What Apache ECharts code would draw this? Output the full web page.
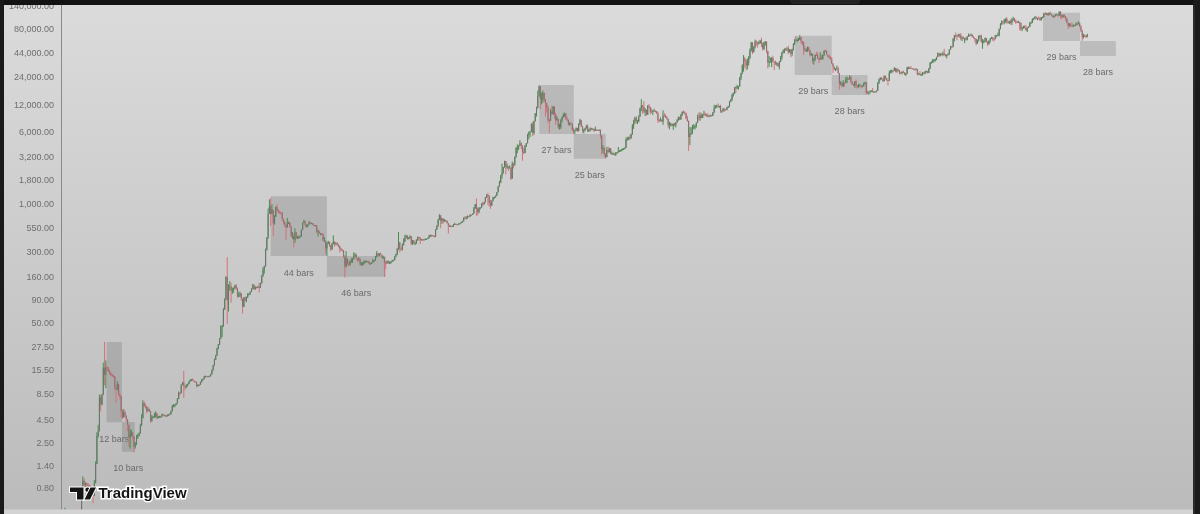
<!DOCTYPE html>
<html><head><meta charset="utf-8">
<script src="https://cdn.jsdelivr.net/npm/echarts@6/dist/echarts.min.js"></script>
<style>html,body{margin:0;padding:0;background:#151515;overflow:hidden}#c{width:1200px;height:514px}</style>
</head><body><div id="c"></div><script>
// ---- Y tick labels (price, log scale) ----
const tickValues = [140000, 80000, 44000, 24000, 12000, 6000, 3200, 1800, 1000, 550, 300, 160, 90, 50, 27.5, 15.5, 8.5, 4.5, 2.5, 1.4, 0.8];
const tickText = ['140,000.00','80,000.00','44,000.00','24,000.00','12,000.00','6,000.00','3,200.00','1,800.00','1,000.00','550.00','300.00','160.00','90.00','50.00','27.50','15.50','8.50','4.50','2.50','1.40','0.80'];

// ---- Weekly candles: [close, high, low]; open = previous close ----
const firstOpen = 0.1;
const yearStarts = ['2010-10-18','2011-01-03','2012-01-02','2013-01-07','2014-01-06','2015-01-05','2016-01-04','2017-01-02','2018-01-01','2019-01-07','2020-01-06','2021-01-04','2022-01-03','2023-01-02','2024-01-01','2025-01-06','2026-01-05'];
const w2010 = [[0.105,0.11,0.095],[0.19,0.20,0.10],[0.36,0.50,0.19],[0.27,0.39,0.22],[0.28,0.30,0.25],[0.28,0.29,0.26],[0.21,0.27,0.19],[0.20,0.24,0.19],[0.24,0.26,0.20],[0.25,0.27,0.23],[0.30,0.30,0.25]];
const w2011 = [[0.32,0.35,0.29],[0.40,0.41,0.31],[0.41,0.45,0.38],[0.44,0.45,0.40],[0.72,0.75,0.44],
[0.99,1.10,0.72],[0.89,1.05,0.80],[0.92,0.95,0.82],[0.90,0.94,0.85],
[0.87,0.93,0.82],[0.85,0.90,0.80],[0.84,0.87,0.76],[0.78,0.85,0.70],
[0.68,0.79,0.56],[0.93,1.0,0.67],[1.50,1.6,0.92],[3.0,3.3,1.5],
[3.4,4.0,2.9],[7.9,8.5,3.4],[6.7,8.5,5.6],[8.4,8.6,6.5],[16.7,19,8.4],
[14.0,31.9,10.7],[16.9,20,10],[16.4,17.5,15.2],[15.4,17.0,14.8],
[14.5,16.0,13.9],[13.8,14.9,13.5],[13.7,14.4,13.3],[13.5,14.0,12.9],
[10.0,13.5,9.5],[9.7,10.8,6.9],[11.0,11.9,9.5],[8.6,11.2,8.2],[8.2,8.8,7.5],
[5.6,8.1,4.8],[4.8,5.9,4.6],[5.5,5.9,4.9],[5.0,5.7,4.8],
[4.6,5.1,4.3],[4.0,4.6,3.4],[2.9,4.0,2.3],[3.2,3.6,2.2],[3.3,3.5,3.0],
[3.0,3.2,2.8],[2.3,3.0,2.0],[2.5,2.6,2.2],[2.9,3.1,2.4],
[3.0,3.2,2.8],[3.2,3.3,3.0],[3.9,4.1,3.2],[4.7,5.2,3.9]];
const w2012 = [[6.9,7.4,4.9],[6.4,7.2,6.2],[6.3,6.8,6.0],[5.6,6.4,5.3],[5.9,6.2,5.6],
[5.6,6.0,5.5],[4.4,5.7,4.2],[4.9,5.1,4.3],[4.9,5.0,4.7],
[4.9,5.4,4.8],[5.3,5.6,4.8],[4.7,5.4,4.6],[4.9,5.0,4.7],
[4.9,5.0,4.8],[4.9,5.0,4.8],[5.2,5.3,4.9],[5.1,5.2,5.0],[5.0,5.2,4.9],
[4.95,5.1,4.9],[5.1,5.2,4.9],[5.1,5.2,5.0],[5.2,5.3,5.1],
[5.6,5.7,5.2],[6.4,6.6,5.6],[6.4,6.7,6.2],[6.6,6.7,6.2],
[6.8,6.9,6.5],[7.6,7.8,6.8],[8.9,9.2,7.6],[8.8,9.0,8.4],[10.9,11.0,8.9],
[11.5,11.6,10.8],[10.5,15.4,7.8],[10.2,10.9,9.5],[10.6,11.0,10.0],
[11.0,11.2,10.4],[11.7,11.9,11.0],[12.3,12.5,11.7],[12.4,12.6,12.0],
[12.1,12.8,12.0],[11.8,12.2,11.6],[11.7,11.9,11.5],[10.5,11.8,10.2],[10.8,11.0,10.4],
[10.9,11.0,10.6],[11.6,11.8,10.8],[12.4,12.6,11.5],[12.6,12.7,12.1],
[13.4,13.6,12.5],[13.5,13.7,13.2],[13.4,13.6,13.2],[13.5,13.6,13.3],[13.5,13.7,13.3]];
const w2013 = [[14.2,14.3,13.4],[15.7,16.0,14.1],[17.6,18.0,15.6],[20.4,21.0,17.6],
[22.6,23.0,20.3],[27.0,27.5,22.5],[29.9,30.2,26.5],[34.5,34.9,29.5],
[46.9,48.5,34.5],[47.0,48.4,36.0],[71.5,74,46.5],[93,95,71],
[162,165,92],[90,266,50],[127,135,68],[128,146,115],[115,140,85],
[117,124,106],[122,125,109],[131,133,120],[122,136,117],
[100,124,96],[101,112,98],[107,112,98],[94,108,89],
[77,94,65],[97,98,76],[89,99,88],[97,99,86],[105,108,96],
[106,108,102],[112,113,104],[120,122,111],[133,136,119],
[119,134,117],[126,128,118],[125,127,121],[127,130,124],[123,140,110],
[138,140,123],[165,170,137],[195,207,164],[212,215,176],
[320,330,210],[435,440,315],[790,900,420],[955,1127,790],
[790,1163,580],[870,1000,780],[620,870,450],[730,760,600],[930,950,730]];
const w2014 = [[870,1000,830],[830,880,800],[820,850,780],[810,830,770],
[690,820,650],[640,700,600],[600,660,560],[560,600,410],
[630,710,560],[630,650,610],[565,640,555],[450,590,440],[450,500,420],
[410,480,340],[495,550,380],[430,500,420],[430,450,420],
[440,460,420],[445,455,435],[525,530,445],[630,630,525],
[655,680,620],[590,660,560],[595,600,560],[600,610,560],[635,660,600],
[620,640,610],[620,630,610],[595,625,590],[590,600,570],
[590,595,575],[500,590,490],[505,530,445],[480,520,475],
[480,485,460],[475,490,460],[400,480,400],[400,440,390],[330,400,290],
[375,385,275],[390,400,370],[355,390,345],[325,360,310],
[375,380,320],[390,460,365],[375,395,345],[380,385,360],
[365,385,355],[350,370,340],[330,355,300],[320,335,310],[315,325,305]];
const w2015 = [[270,305,260],[210,280,160],[255,310,205],[225,260,215],
[220,245,210],[235,245,215],[245,260,230],[255,260,230],
[275,300,250],[280,295,265],[260,290,245],[250,255,235],[255,265,240],
[220,255,215],[222,235,215],[226,235,215],[240,245,220],
[240,245,230],[237,245,232],[240,242,233],[225,242,222],
[225,230,220],[232,235,225],[245,255,232],[245,248,238],[270,275,242],
[292,310,262],[275,295,270],[290,295,270],[282,298,278],
[262,283,258],[265,275,255],[232,262,162],[228,240,198],[240,245,225],
[230,245,225],[231,240,225],[235,240,225],[245,248,235],
[247,250,240],[270,272,245],[285,290,265],[325,335,280],
[385,500,320],[330,390,300],[325,340,310],[360,375,315],[390,425,355],
[435,465,390],[455,465,425],[420,460,410],[430,440,415]];
const w2016 = [[450,460,420],[375,450,360],[405,410,360],[375,400,370],
[375,390,360],[410,415,370],[440,445,400],[430,445,400],[410,440,370],
[415,420,405],[410,420,405],[415,420,405],[420,425,410],
[420,425,415],[430,435,420],[460,465,425],[455,470,440],
[460,465,445],[455,462,450],[443,457,435],[530,535,440],[585,590,525],
[680,690,570],[760,780,670],[660,760,550],[700,710,610],
[650,690,620],[665,690,650],[660,680,640],[625,660,615],
[585,625,480],[570,600,565],[580,590,570],[575,585,565],[605,610,565],
[610,630,600],[605,615,600],[600,605,590],[615,620,600],
[620,625,605],[640,645,630],[655,660,630],[715,720,650],[705,745,690],
[705,740,690],[740,755,700],[735,745,725],[770,775,725],
[765,775,750],[790,795,765],[895,935,790],[1000,1010,890]];
const w2017 = [[900,1150,750],[820,920,760],[920,925,800],[920,925,880],[1015,1030,915],
[1000,1070,950],[1050,1060,990],[1180,1200,1050],[1260,1290,1170],
[1240,1330,980],[1030,1250,940],[970,1120,890],[1090,1100,960],
[1190,1200,1080],[1195,1210,1150],[1240,1250,1180],[1350,1355,1240],
[1560,1580,1350],[1720,1800,1560],[2050,2080,1700],[2200,2760,1900],[2520,2550,2150],
[2950,2980,2500],[2550,2850,2100],[2580,2770,2420],[2500,2600,2300],
[2500,2650,2480],[1900,2530,1840],[2750,2920,1960],[2720,2830,2450],[3260,3300,2620],
[4050,4200,3200],[4080,4480,3600],[4350,4400,3900],[4600,4980,4300],
[4300,4720,3980],[3700,4400,2970],[3600,4100,3500],[4380,4400,3750],
[4600,4650,4200],[5700,5850,4600],[6000,6200,5100],[6150,6250,5400],[7400,7600,6100],
[5950,7900,5500],[8000,8100,5700],[9700,9800,7950],[11300,11500,9000],
[15000,17200,11000],[19100,19666,14800],[13900,19100,10800],[14000,16500,12200]];
const w2018 = [[16200,17250,12800],[13600,16500,12900],[12600,14000,9000],[11400,12000,10000],[8200,11800,7700],
[8100,8500,6000],[10300,10900,8100],[9600,11800,9300],[11500,11700,9400],
[9500,11700,8500],[8200,9900,7300],[8500,9100,8100],[6900,8500,6600],
[6900,7500,6500],[8300,8400,6600],[8900,9000,7800],[9400,9750,8700],[9700,9950,8900],
[8400,9700,8300],[8250,8880,7900],[7350,8400,7250],[7700,7750,7100],
[7500,7800,7400],[6450,7300,6300],[6150,6800,5800],[6350,6500,5800],
[6750,6850,6300],[6250,6800,6100],[7400,7600,6200],[8200,8500,7300],[7000,8200,6900],
[6300,7150,6000],[6400,6600,5880],[6700,6800,6250],[7050,7300,6650],
[6200,7400,6100],[6500,6600,6200],[6700,6850,6200],[6600,6800,6400],
[6600,6700,6500],[6300,6700,6100],[6450,7000,6300],[6440,6520,6380],[6400,6500,6300],
[6450,6500,6300],[5600,6480,5200],[3950,5600,3480],[4100,4400,3600],
[3500,4200,3300],[3250,3600,3120],[3900,4200,3250],[3700,4250,3550],[4050,4100,3650]];
const w2019 = [[3550,4100,3500],[3550,3750,3500],[3550,3650,3450],[3450,3550,3400],
[3650,3700,3350],[3650,3700,3550],[3800,4200,3650],[3850,3900,3700],
[3900,3950,3700],[4000,4050,3800],[4000,4100,3950],[4100,4150,3950],
[5050,5300,4100],[5150,5450,4900],[5350,5400,5000],[5200,5650,5000],[5800,5850,5200],
[7200,7450,5700],[8050,8300,6600],[8750,8950,7500],[8000,9100,7500],
[8000,8300,7450],[8980,9300,7800],[11000,11250,8950],[11850,13900,10300],
[11500,12000,9650],[10200,13200,9800],[10700,11100,9100],[9500,10700,9200],[11800,11950,9400],
[11400,12300,11000],[10200,11500,9500],[10150,11000,9800],[10400,10600,9350],
[10400,10950,10250],[10300,10450,9950],[9700,10350,9650],[8200,10100,7700],[8150,8450,7800],
[8300,8800,8000],[7950,8400,7850],[9250,10500,7300],[9200,9850,8950],
[8800,9500,8700],[8500,9100,8300],[7300,8500,6800],[7400,7900,6550],
[7500,7700,7050],[7100,7500,7050],[7500,7550,6450],[7300,7700,7050],[7750,7800,6850]];
const w2020 = [[8200,8450,7700],[8900,9000,8100],[8350,8950,8250],[9400,9600,8300],
[10150,10200,9150],[9900,10500,9700],[9700,10250,9450],[8550,9950,8450],
[8050,9200,7900],[5400,8150,3800],[5850,6900,4400],[5900,6900,5700],[6800,7300,5860],
[6900,7450,6550],[7100,7300,6500],[7650,7800,6800],[8850,9450,7650],
[8700,10000,8100],[9350,9950,8100],[8700,9850,8600],[9450,9600,8650],
[9650,10400,9200],[9380,9950,9050],[9300,9600,8950],[9000,9800,8850],[9050,9300,8900],
[9300,9450,9050],[9150,9300,9000],[9950,10050,9150],[11050,12100,9900],
[11700,11900,11000],[11900,12100,11150],[11650,12500,11350],[11700,11800,11100],[10250,12100,9900],
[10300,10500,9900],[10950,11200,10200],[10750,10950,10150],[10650,10950,10500],
[11350,11500,10550],[11400,11750,11200],[13050,13250,11400],[13750,14000,12900],
[15450,15950,13300],[16050,16450,14850],[18700,18800,15800],[18200,19450,16300],[19150,19900,18000],
[19150,19400,17600],[23800,24300,19000],[26450,26900,22400],[32200,33300,26000]];
const w2021 = [[38200,41950,27700],[36100,40100,30400],[32300,37850,28800],[34300,38500,29300],
[39200,40950,32300],[47100,49700,37900],[57500,58300,45700],[45150,57500,43000],
[51000,52650,44950],[59000,61800,49300],[57400,60650,53200],[55800,58500,50400],[57100,60100,54800],
[60000,61300,55500],[56200,64900,51300],[49100,57200,47000],[57800,58500,47500],
[58250,59550,52900],[46450,59600,43900],[34700,46650,30000],[35650,40900,31200],[35800,39450,34900],
[39100,40000,31000],[35500,41300,34800],[34700,35700,28800],[34000,36600,32700],
[34250,35100,32100],[31800,34600,31000],[35400,35900,29300],[39850,40900,35200],
[44600,45300,37400],[47100,48150,43700],[49300,49400,43950],[48850,50500,46300],[49900,51000,46550],
[45150,52950,42850],[48300,48850,44750],[43200,48350,39600],[48200,49150,40750],
[55000,56550,46900],[61550,62950,53900],[61300,67000,59500],[61300,63700,57800],
[61500,64250,59800],[65500,69000,62300],[59700,66350,55600],[57300,59500,53600],[49400,59200,42000],
[46700,51950,45700],[46700,49450,45650],[50800,51950,45550],[47300,52100,45750]];
const w2022 = [[41850,47550,40650],[43100,44450,41250],[36300,43500,34000],[38500,38950,32900],[42400,42600,36250],
[42200,45850,41650],[38350,44700,38000],[37700,39800,34350],[38450,45400,37200],
[37800,42450,37550],[42250,42350,37600],[46850,47000,40900],[46400,48200,45100],
[42150,47200,42000],[40400,41550,39250],[39450,42950,38550],[37650,40800,37550],
[34050,39950,33700],[31300,34300,26700],[29450,31400,28650],[29450,30250,28000],[29900,32200,29250],
[26550,31650,26550],[20550,26850,17600],[21000,21850,19650],[19300,21500,18650],
[20850,22400,18950],[20800,21250,18950],[22600,24250,20750],[23300,24650,20800],
[23150,23650,22450],[24300,25200,22700],[21550,25000,20800],[20050,21850,19850],[19800,20550,19550],
[21800,21850,18550],[19450,22800,18250],[18950,19950,18150],[19300,20350,18500],
[19450,20450,19300],[19050,19950,18200],[19200,19700,18900],[20600,21050,19250],[21300,21450,20050],
[16300,21450,15600],[16250,17200,16000],[16450,16950,15500],[16900,17400,16050],
[17100,17400,16900],[16750,18400,16450],[16850,16950,16300],[16600,16950,16300]];
const w2023 = [[17150,17300,16500],[20850,21250,17150],[22700,23350,20400],[23750,23950,22300],[22950,24250,22700],
[21850,23400,21450],[24650,25250,21500],[23550,25250,22750],[22450,23900,21950],
[22150,22550,19550],[26900,28400,21950],[27450,28900,26600],[28450,29200,26550],
[28350,28800,27250],[30300,31000,28150],[27800,30400,27150],[29250,30050,26950],
[28700,29850,27700],[26900,28850,25850],[26750,27650,26100],[27700,27800,25900],[27100,28400,26550],
[25850,27400,25400],[26350,26800,24800],[30500,31400,26250],[30600,31300,29500],
[30300,31500,29750],[30250,31800,29950],[29850,30350,29550],[29250,29950,28900],[29050,29950,28650],
[29400,30250,29000],[26050,29650,25200],[26050,26850,25700],[25850,28150,25350],
[25850,26400,24900],[26550,27450,25050],[26250,27450,26050],[27950,28000,26000],
[27950,28550,27200],[26850,27950,26550],[29950,30350,26900],[34500,35250,29650],[35000,35950,33900],
[37050,38000,34500],[37400,37950,34800],[37450,38400,35700],[39950,40200,36900],
[43800,44700,39950],[41550,43450,40200],[43000,44400,40600],[42250,43800,41500]];
const w2024 = [[43950,45900,40750],[41700,49050,41500],[41550,43200,40300],[42050,42850,38500],[42600,43850,41850],
[48300,48550,42500],[52100,52800,48350],[51700,52950,50500],[63100,64000,50900],
[68950,69150,59050],[68400,73800,64500],[67250,68900,60800],[69650,71750,66500],
[69350,71350,64500],[63450,72800,60650],[64950,66850,59650],[63100,67200,62400],[63900,64750,56550],
[61500,65450,60200],[66250,67450,60750],[69300,71950,66600],[67750,70600,66650],
[69650,71950,68500],[66650,70200,65050],[64250,66950,63350],[62700,62950,58450],
[55850,63800,53500],[60800,61850,55750],[68150,68350,58950],[68250,69400,63500],[58150,70050,57200],
[58700,62700,49100],[58950,61750,56150],[64150,65050,57850],[58950,64500,57200],
[54850,59800,52550],[59950,60600,54600],[63350,64150,57500],[65650,66450,62650],[62900,65550,59850],
[62850,64450,58950],[69000,69450,62400],[67950,69500,65100],[69350,73600,67600],
[80350,81500,66800],[90550,93450,80200],[97900,99650,88700],[97050,98750,90800],
[101200,103900,90500],[104450,105200,94200],[95200,108300,92250],[93750,99950,92600],[98300,98900,91500]];
const w2025 = [[94500,102700,89300],[101300,106300,89250],[102600,109350,99500],[97700,106450,96200],
[96500,102500,91200],[96150,98800,94100],[96200,99500,93350],[94250,96500,78200],
[80700,94400,76600],[82600,85300,76550],[86100,87450,81150],[82400,88750,81600],[78350,88500,77100],
[83750,83900,74500],[85200,86450,83150],[93750,95750,85100],[94300,97900,92800],
[104200,104950,93400],[106500,106650,100700],[109050,111950,102100],[104650,110700,103100],
[105700,106800,100350],[105550,110400,102600],[100950,108950,98200],[108350,108550,99650],[109200,110550,105100],
[119100,119500,107500],[117300,123200,115700],[119450,120250,114700],[114200,119800,111900],
[119300,122300,112700],[117400,124450,115000],[113500,117600,110600],[108300,113400,107300],
[111100,113400,107250],[115300,116800,110600],[115700,117900,114400],[112200,113300,108700],[123500,125700,111600],
[115100,126200,104000],[108600,115900,103500],[114500,116000,106700],[110500,116400,106300],
[104700,111000,98900],[94200,106600,93000],[86800,95000,80600],[90400,93000,85300],
[88200,94000,83800],[88000,94500,85500],[88400,90300,84500],[87800,90000,86500],[91000,94700,87000]];
const w2026 = [[91000,94800,90000],[93000,97800,90500],[86000,95000,84500],[77000,88500,74500],[66000,79000,60000],
[69000,71500,63500],[67500,70500,65500],[66500,69500,64500],[70000,71500,65500]];
const yearWeeks = [w2010,w2011,w2012,w2013,w2014,w2015,w2016,w2017,w2018,w2019,w2020,w2021,w2022,w2023,w2024,w2025,w2026];

// ---- Range boxes (date-range tool) ----
const boxStart  = ['2011-06-17','2011-09-09','2013-12-02','2014-10-06','2017-12-12','2018-06-19','2021-10-11','2022-05-02','2025-07-02','2026-01-21'];
const boxBars   = [12, 10, 44, 46, 27, 25, 29, 28, 29, 28];
const boxTop    = [31.7, 4.27, 1220, 273, 19830, 5811, 68170, 25470, 121250, 59700];
const boxBottom = [4.27, 2.03, 273, 163, 5811, 3131, 25470, 15440, 59700, 41000];

// ---- build ----
const DAY = 86400000, WEEK = 7 * DAY;
const lg = v => Math.log10(v);
const t = s => Date.parse(s + 'T00:00:00Z');
const candles = [];
let prev = firstOpen;
yearWeeks.forEach((arr, k) => {
  const t0 = t(yearStarts[k]);
  arr.forEach((w, i) => {
    const [c, h, l] = w;
    const o = prev;
    candles.push([t0 + i * WEEK, lg(o), lg(c), lg(Math.min(l, o, c)), lg(Math.max(h, o, c))]);
    prev = c;
  });
});

// layout calibration (pixels of the screenshot)
const anchor = t('2013-12-02'), anchorX = 270.7, pxPerWeek = 1.278;
const gridL = 61, gridR = 1193;
const xMin = anchor + (gridL - anchorX) / pxPerWeek * WEEK;
const xMax = anchor + (gridR - anchorX) / pxPerWeek * WEEK;
const yMax = 5.1674, yMin = -0.3199;

const tickLog = tickValues.map(lg);
const labelFor = v => { let bi = 0, bd = 1e9; tickLog.forEach((x, i) => { const d = Math.abs(x - v); if (d < bd) { bd = d; bi = i; } }); return tickText[bi]; };

const areas = boxStart.map((s, i) => [
  { coord: [t(s), lg(boxTop[i])], name: boxBars[i] + ' bars' },
  { coord: [t(s) + boxBars[i] * WEEK, lg(boxBottom[i])] }
]);

const WICK_UP = '#43904a', WICK_DOWN = '#d4717b';
const BODY_UP = '#6a766b', BODY_DOWN = '#8c7073';
function renderCandle(params, api) {
  const tt = api.value(0);
  const o = api.value(1), c = api.value(2);
  const pO = api.coord([tt, o]), pC = api.coord([tt, c]);
  const pL = api.coord([tt, api.value(3)]), pH = api.coord([tt, api.value(4)]);
  const up = c >= o;
  const x = pO[0];
  const top = Math.min(pO[1], pC[1]);
  const hgt = Math.max(1, Math.abs(pO[1] - pC[1]));
  return {
    type: 'group',
    children: [
      { type: 'line', shape: { x1: x, y1: pH[1], x2: x, y2: pL[1] }, style: { stroke: up ? WICK_UP : WICK_DOWN, lineWidth: 1 } },
      { type: 'rect', shape: { x: x - 0.55, y: top, width: 1.1, height: hgt }, style: { fill: up ? BODY_UP : BODY_DOWN } }
    ]
  };
}

const chart = echarts.init(document.getElementById('c'), null, { renderer: 'canvas' });
const logoStyle = { fill: '#141414', stroke: '#ffffff', lineWidth: 2, strokeFirst: true };
chart.setOption({
  animation: false,
  backgroundColor: { type: 'linear', x: 0, y: 0, x2: 0, y2: 1, colorStops: [{ offset: 0, color: '#dbdbdb' }, { offset: 1, color: '#bbbbbb' }] },
  grid: { left: gridL, right: 1200 - gridR, top: 5, bottom: 4.5 },
  xAxis: { type: 'time', min: xMin, max: xMax, show: false },
  yAxis: {
    type: 'value', min: yMin, max: yMax, position: 'left',
    axisLine: { show: true, lineStyle: { color: '#8a8a8a', width: 1 } },
    axisTick: { show: false }, splitLine: { show: false },
    axisLabel: { customValues: tickLog, formatter: labelFor, color: '#6e6e6e', fontSize: 9, fontFamily: '"Liberation Sans", Arial, sans-serif', margin: 7 }
  },
  series: [{
    type: 'custom', clip: true, data: candles,
    encode: { x: 0, y: [1, 2, 3, 4] },
    renderItem: renderCandle,
    markArea: {
      silent: true,
      itemStyle: { color: 'rgba(60,60,60,0.18)', borderWidth: 0 },
      label: { show: true, position: 'bottom', distance: 12.5, color: '#6a6a6a', fontSize: 9, fontFamily: '"Liberation Sans", Arial, sans-serif' },
      data: areas
    }
  }],
  graphic: [
    { type: 'rect', z: 100, shape: { x: 0, y: 0, width: 1200, height: 5 }, style: { fill: '#131313' } },
    { type: 'rect', z: 101, shape: { x: 790, y: 0, width: 70, height: 4, r: [0, 0, 3, 3] }, style: { fill: '#232323' } },
    { type: 'rect', z: 100, shape: { x: 0, y: 0, width: 4, height: 514 }, style: { fill: '#1a1a1a' } },
    { type: 'rect', z: 100, shape: { x: 1193, y: 0, width: 7, height: 514 }, style: { fill: '#1b1b1b' } },
    { type: 'rect', z: 100, shape: { x: 1193, y: 5, width: 2, height: 509 }, style: { fill: '#2c2c2c' } },
    { type: 'rect', z: 100, shape: { x: 4, y: 509.5, width: 1189, height: 5 }, style: { fill: '#d3d3d3' } },
    { type: 'polygon', z: 110, shape: { points: [[70, 487.5], [83.5, 487.5], [83.5, 499.5], [77, 499.5], [77, 492], [70, 492]] }, style: logoStyle },
    { type: 'circle', z: 110, shape: { cx: 87.6, cy: 489.8, r: 2.3 }, style: logoStyle },
    { type: 'polygon', z: 110, shape: { points: [[90.5, 487.5], [96, 487.5], [90, 499.5], [84.5, 499.5]] }, style: logoStyle },
    { type: 'text', z: 110, x: 98.5, y: 493.5, style: { text: 'TradingView', fontSize: 15, fontWeight: 'bold', fontFamily: '"Liberation Sans", Arial, sans-serif', fill: '#141414', stroke: '#ffffff', lineWidth: 3, strokeFirst: true, verticalAlign: 'middle' } }
  ]
});
</script></body></html>
